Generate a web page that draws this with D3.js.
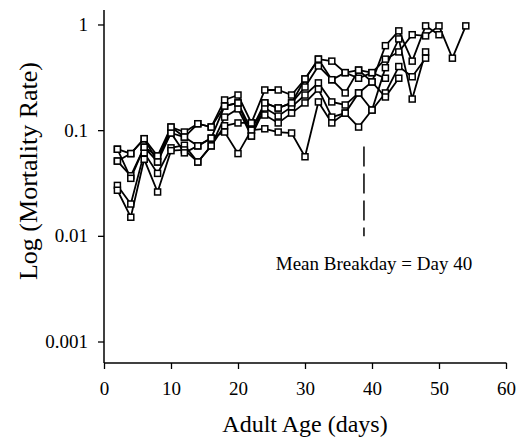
<!DOCTYPE html>
<html>
<head>
<meta charset="utf-8">
<script src="https://cdn.jsdelivr.net/npm/d3@7"></script>
<style>
  body { margin: 0; background: #fff; }
  svg text { font-family: "Liberation Serif", "DejaVu Serif", serif; fill: #000; }
</style>
</head>
<body>
<svg id="chart" width="517" height="437"></svg>
<script>
// Adult age in days (x), every second day
const days = [2,4,6,8,10,12,14,16,18,20,22,24,26,28,30,32,34,36,38,40,42,44,46,48,50,52,54];

// mortality rate per cohort (null = cohort gone)
const cohortA = [0.066,0.060,0.083,0.057,0.107,0.096,0.115,0.107,0.193,0.215,0.117,0.24,0.24,0.215,0.305,0.47,0.45,0.35,0.31,0.35,0.47,0.55,0.80,0.78,0.97,0.48,0.97];
const cohortB = [0.051,0.037,0.069,0.050,0.094,0.086,0.071,0.084,0.169,0.181,0.100,0.181,0.162,0.181,0.256,0.405,0.30,0.225,0.37,0.286,0.63,0.87,0.45,0.97,0.80,null,null];
const cohortC = [0.030,0.020,0.061,0.039,0.068,0.072,0.050,0.071,0.133,0.159,0.088,0.162,0.136,0.166,0.215,0.28,0.185,0.173,0.225,0.155,0.39,0.73,0.197,0.55,null,null,null];
const cohortD = [0.027,0.015,0.053,0.026,0.064,0.065,0.050,0.071,0.110,0.117,0.117,0.139,0.117,0.145,0.181,0.245,0.133,0.145,0.107,0.155,0.225,0.40,0.32,0.48,null,null,null];
const cohortE = [0.066,0.035,0.069,0.057,0.094,0.061,0.071,0.084,0.096,0.060,0.100,0.103,0.096,0.094,0.056,0.185,0.117,0.145,0.225,0.286,0.206,0.31,null,null,null,null,null];
const cohortF = [0.051,0.060,0.083,0.050,0.107,0.086,0.115,0.107,0.169,0.181,0.088,0.181,0.162,0.181,0.305,0.47,0.30,0.35,0.37,0.35,0.31,null,null,null,null,null,null];

const xTicks = [0,10,20,30,40,50,60];
const yTicks = [1,0.1,0.01,0.001];
const breakday = 38.8;
const breakLabel = "Mean Breakday = Day 40";

const svg = d3.select("#chart");

// plot frame in pixels
const frame = {left: 104, right: 506, top: 10, bottom: 363};

const x = d3.scaleLinear().domain([0, 60]).range([frame.left, frame.right]);
const y = d3.scaleLog().domain([0.000626, 1.371]).range([frame.bottom, frame.top]);

// x axis
const xAxis = svg.append("g")
  .attr("transform", `translate(0,${frame.bottom})`)
  .call(d3.axisBottom(x).tickValues(xTicks).tickSize(6).tickPadding(13).tickFormat(d3.format("d")));

// y axis
const yAxis = svg.append("g")
  .attr("transform", `translate(${frame.left},0)`)
  .call(d3.axisLeft(y).tickValues(yTicks).tickSize(6).tickPadding(10).tickFormat(d => String(d)));

[xAxis, yAxis].forEach(a => {
  a.attr("font-family", "Liberation Serif").attr("font-size", 19);
  a.select(".domain").attr("stroke", "#000").attr("stroke-width", 1.5);
  a.selectAll(".tick line").attr("stroke", "#000").attr("stroke-width", 1.3);
  a.selectAll(".tick text")
    .attr("font-family", "Liberation Serif")
    .style("font-family", "Liberation Serif")
    .style("font-size", "19px");
});
xAxis.select(".domain").attr("d", `M${frame.left},0H${frame.right + 0.5}`);
yAxis.select(".domain").attr("d", `M0,${frame.top}V${frame.bottom}`);

// axis titles
svg.append("text")
  .attr("x", 305).attr("y", 432)
  .attr("text-anchor", "middle")
  .style("font-size", "24px")
  .text("Adult Age (days)");

svg.append("text")
  .attr("transform", "translate(37,171) rotate(-90)")
  .attr("text-anchor", "middle")
  .style("font-size", "26px")
  .text("Log (Mortality Rate)");

// cohorts
const cohorts = [cohortA, cohortB, cohortC, cohortD, cohortE, cohortF];

const line = d3.line()
  .defined(d => d.v != null)
  .x(d => x(d.day))
  .y(d => y(d.v));

cohorts.forEach((vals, i) => {
  const pts = days.map((day, j) => ({day: day, v: vals[j]}));
  svg.append("path")
    .attr("d", line(pts))
    .attr("fill", "none")
    .attr("stroke", "#000")
    .attr("stroke-width", 1.8);
});

cohorts.forEach((vals, i) => {
  const pts = days.map((day, j) => ({day: day, v: vals[j]})).filter(d => d.v != null);
  svg.selectAll(`rect.c${i}`)
    .data(pts)
    .enter()
    .append("rect")
    .attr("class", `c${i}`)
    .attr("x", d => x(d.day) - 3)
    .attr("y", d => y(d.v) - 3)
    .attr("width", 6)
    .attr("height", 6)
    .attr("fill", "#fff")
    .attr("stroke", "#000")
    .attr("stroke-width", 1.5);
});

// breakday marker
svg.append("line")
  .attr("x1", x(breakday)).attr("x2", x(breakday))
  .attr("y1", y(0.07)).attr("y2", y(0.0099))
  .attr("stroke", "#000")
  .attr("stroke-width", 1.5)
  .attr("stroke-dasharray", "20,7");

svg.append("text")
  .attr("x", 374).attr("y", 270)
  .attr("text-anchor", "middle")
  .style("font-size", "19px")
  .text(breakLabel);
</script>
</body>
</html>
